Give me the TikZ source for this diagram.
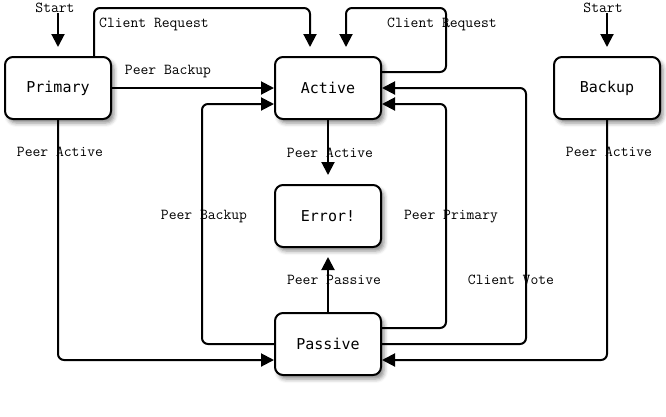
\documentclass[tikz,border=0pt]{standalone}
\usepackage{fontspec}
\usetikzlibrary{arrows.meta,positioning,shadows.blur}
\newfontfamily\statefont{DejaVu Sans Mono}

\begin{document}
\begin{tikzpicture}[x=1pt,y=-1pt,
    state/.style={draw,line width=2pt,rounded corners=8pt,fill=white,
      minimum width=106pt,minimum height=62pt,inner sep=0pt,
      font=\statefont\fontsize{15}{18}\selectfont,
      blur shadow={shadow xshift=3pt,shadow yshift=-4pt,shadow blur radius=4pt,shadow opacity=45}},
    lbl/.style={inner sep=0pt,font=\ttfamily\fontsize{15.2}{18}\selectfont},
    arr/.style={line width=2pt,rounded corners=6pt,-{Triangle[length=13pt,width=13pt]}},
    gap/.style={shorten >=9pt}]
  \useasboundingbox (0,0) rectangle (666,416);
  % states
  \node[state] (primary) at (58,88) {Primary};
  \node[state] (active) at (328,88) {Active};
  \node[state] (backup) at (607,88) {Backup};
  \node[state] (error) at (328,216) {Error!};
  \node[state] (passive) at (328,344) {Passive};
  % labels
  \node[lbl] (startp) at (55,8) {Start};
  \node[lbl] (startb) at (603,8) {Start};
  \node[lbl] (lreqp) at (154,24) {Client Request};
  \node[lbl] (lreqa) at (442,24) {Client Request};
  \node[lbl] (lbackt) at (168,72) {Peer Backup};
  \node[lbl] (lactp) at (60,152) {Peer Active};
  \node[lbl] (lacta) at (330,153) {Peer Active};
  \node[lbl] (lactb) at (609,152) {Peer Active};
  \node[lbl] (lbackm) at (204,217) {Peer Backup};
  \node[lbl] (lprim) at (451,217) {Peer Primary};
  \node[lbl] (lpass) at (334,280) {Peer Passive};
  \node[lbl] (lvote) at (511,280) {Client Vote};
  % start arrows
  \draw[arr,gap] (startp.south -| primary.north) -- (primary.north);
  \draw[arr,gap] (startb.south -| backup.north) -- (backup.north);
  % into active
  \draw[arr,gap] ([xshift=36pt]primary.north) |- ([xshift=-18pt,yshift=48pt]active.north)
    -- ([xshift=-18pt]active.north);
  \draw[arr,gap] ([yshift=16pt]active.east) -- ++(64,0)
    |- ([xshift=18pt,yshift=48pt]active.north) -- ([xshift=18pt]active.north);
  \draw[arr] (primary) -- (active);
  \draw[arr] (passive.west) -| ([xshift=-72pt,yshift=-16pt]active.west)
    -- ([yshift=-16pt]active.west);
  \draw[arr] ([yshift=16pt]passive.east) -| ([xshift=64pt,yshift=-16pt]active.east)
    -- ([yshift=-16pt]active.east);
  \draw[arr] (passive.east) -| ([xshift=144pt]active.east) -- (active.east);
  % into error
  \draw[arr,gap] (active) -- (error);
  \draw[arr,gap] (passive) -- (error);
  % into passive
  \draw[arr] (primary.south) |- ([yshift=-16pt]passive.west);
  \draw[arr] (backup.south) |- ([yshift=-16pt]passive.east);
\end{tikzpicture}
\end{document}
